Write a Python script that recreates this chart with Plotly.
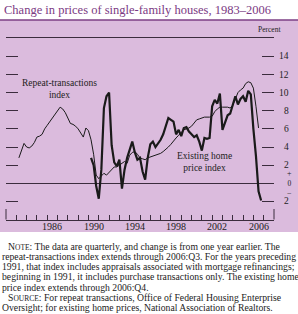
import plotly.graph_objects as go

W, H = 298, 314
FONT = "Liberation Serif"
INK = "#1a1a1a"
AX = "#3b2c3d"

# ---------------- data ----------------
# Repeat-transactions index, 4-quarter % change, starting 1983:Q2, through 2006:Q3
repeat_start = (1983, 2)
repeat_vals = [
    2.8, 3.6, 4.4,
    4.0, 3.9, 4.1, 4.5,
    5.1, 5.2, 5.4, 6.0,
    6.4, 6.8, 7.2, 7.6,
    8.0, 8.4, 8.2, 7.8,
    7.2, 6.6, 6.5, 6.3,
    6.0, 5.5, 5.1, 6.1,
    5.8, 4.8, 3.2, 0.9,
    0.5, 0.8, 1.1, 0.9,
    1.2, 1.4, 1.8, 1.8,
    2.0, 2.2, 2.4, 2.2,
    3.1, 3.4, 3.5, 3.2,
    2.8, 2.7, 2.6, 2.8,
    2.9, 3.0, 3.1, 3.2,
    3.3, 3.5, 3.7, 4.0,
    4.3, 4.7, 5.0, 5.3,
    5.6, 5.9, 6.0, 6.1,
    6.3, 6.6, 7.0, 7.1,
    7.2, 7.3, 7.3, 7.3,
    7.4, 7.9, 8.2, 8.4,
    8.4, 8.4, 8.4, 8.3,
    8.6, 9.3, 10.0, 10.3,
    10.5, 11.0, 11.2, 11.1,
    10.5, 8.5, 6.1,
]

# Existing home price index, 4-quarter % change, starting 1990:Q2, through 2006:Q4
existing_start = (1990, 2)
existing_vals = [
    2.8, 2.0, -0.3,
    -1.7, 1.5, 8.3, 9.6,
    10.0, 4.2, 2.3, 1.9,
    2.6, -0.6, 1.5, 2.8,
    3.8, 4.6, 3.4, 2.6,
    2.8, 1.3, 0.4, 2.8,
    4.3, 4.6, 4.0, 4.4,
    4.8, 5.4, 6.2, 7.2,
    7.0, 6.8, 5.4, 5.9,
    5.2, 6.1, 6.2, 5.7,
    5.4, 5.1, 5.3, 4.6,
    3.6, 5.0, 4.9, 5.0,
    8.5, 9.2, 8.8, 9.9,
    5.9, 6.8, 7.5, 7.7,
    8.8, 9.6, 8.7, 9.3,
    9.6, 9.0, 10.2, 9.8,
    6.0, 3.0, -0.9, -1.9,
]

year_labels = ["1986", "1990", "1994", "1998", "2002", "2006"]
x_range = [1982, 2008]
y_range = [-4, 16]
y_tick_vals = [-2, 2, 4, 6, 8, 10, 12, 14]
y_tick_text = ["2", "2", "4", "6", "8", "10", "12", "14"]
zero_label = "<span style='font-size:8px'>+</span><br>0<br><span style='font-size:8px'>\u2212</span>"

title_text = "Change in prices of single-family houses, 1983\u20132006"
note_lines = [
    "N<span style='font-size:7.5px'>OTE</span>: The data are quarterly, and change is from one year earlier. The",
    "repeat-transactions index extends through 2006:Q3. For the years preceding",
    "1991, that index includes appraisals associated with mortgage refinancings;",
    "beginning in 1991, it includes purchase transactions only. The existing home",
    "price index extends through 2006:Q4.",
    "S<span style='font-size:7.5px'>OURCE</span>: For repeat transactions, Office of Federal Housing Enterprise",
    "Oversight; for existing home prices, National Association of Realtors.",
]
note_indent = [True, False, False, False, False, True, False]


def quarter_x(start, n):
    y, q = start
    xs = []
    for _ in range(n):
        xs.append(y + (q - 1) / 4)
        q += 1
        if q > 4:
            q = 1
            y += 1
    return xs


def px(p):
    return p / W


def py(p):
    return 1 - p / H


fig = go.Figure()
fig.add_trace(go.Scatter(
    x=quarter_x(repeat_start, len(repeat_vals)), y=repeat_vals,
    mode="lines", line=dict(color=INK, width=1), hoverinfo="skip"))
fig.add_trace(go.Scatter(
    x=quarter_x(existing_start, len(existing_vals)), y=existing_vals,
    mode="lines", line=dict(color=INK, width=2.2), hoverinfo="skip"))
# invisible trace to activate the right axis
fig.add_trace(go.Scatter(x=[x_range[0]], y=[0], yaxis="y2", mode="markers",
                         marker=dict(opacity=0), hoverinfo="skip"))

x_dom = [px(6), px(274)]
y_dom = [py(219.5), py(38.3)]

fig.update_layout(
    width=W, height=H, margin=dict(l=0, r=0, t=0, b=0),
    paper_bgcolor="white", plot_bgcolor="rgba(0,0,0,0)",
    showlegend=False,
    xaxis=dict(domain=x_dom, range=x_range, showgrid=False, zeroline=False,
               showline=True, mirror=True, linecolor=AX, linewidth=1,
               ticks="inside", ticklen=5, tickcolor=AX, tickwidth=1,
               tickvals=list(range(x_range[0], x_range[1] + 1)),
               showticklabels=False, fixedrange=True),
    yaxis=dict(domain=y_dom, range=y_range, showgrid=False,
               zeroline=True, zerolinecolor=AX, zerolinewidth=1,
               showline=False, ticks="inside", ticklen=12, tickcolor=AX,
               tickwidth=1, tickvals=y_tick_vals, showticklabels=False,
               fixedrange=True),
    yaxis2=dict(overlaying="y", side="right", anchor="x", range=y_range,
                showgrid=False, zeroline=False, showline=False,
                ticks="inside", ticklen=12, tickcolor=AX, tickwidth=1,
                tickvals=y_tick_vals, showticklabels=False, fixedrange=True),
)

shapes = [
    dict(type="rect", xref="paper", yref="paper", x0=0, x1=1,
         y0=py(232), y1=py(20), fillcolor="#dbbbdd", line=dict(width=0),
         layer="below"),
    dict(type="line", xref="paper", yref="paper", x0=0, x1=1,
         y0=py(20), y1=py(20), line=dict(color="#7d3f85", width=1.5)),
    dict(type="line", xref="x domain", yref="paper", x0=0, x1=0,
         y0=py(219.5), y1=py(209), line=dict(color=AX, width=1)),
    dict(type="line", xref="x domain", yref="paper", x0=1, x1=1,
         y0=py(219.5), y1=py(209), line=dict(color=AX, width=1)),
]
fig.update_layout(shapes=shapes)

ann = []
ann.append(dict(text=title_text, xref="paper", yref="paper", x=px(2), y=py(10),
                xanchor="left", yanchor="middle", showarrow=False,
                font=dict(family=FONT, size=12.5, color="#7b3983")))
ann.append(dict(text="Percent", xref="paper", yref="paper", x=px(283), y=py(30),
                xanchor="right", yanchor="middle", showarrow=False,
                font=dict(family=FONT, size=7.5, color="#222")))
for lab in year_labels:
    ann.append(dict(text=lab, xref="x", yref="paper", x=int(lab) + 0.5, y=py(227),
                    xanchor="center", yanchor="middle", showarrow=False,
                    font=dict(family=FONT, size=10, color="#222")))
for v, t in zip(y_tick_vals, y_tick_text):
    ann.append(dict(text=t, xref="paper", yref="y", x=px(291), y=v,
                    xanchor="right", yanchor="middle", showarrow=False,
                    font=dict(family=FONT, size=9.5, color="#222")))
ann.append(dict(text=zero_label, xref="paper", yref="y", x=px(289), y=0,
                xanchor="center", yanchor="middle", showarrow=False,
                font=dict(family=FONT, size=7.5, color="#222")))
ann.append(dict(text="Repeat-transactions<br>index", xref="paper", yref="paper",
                x=px(59), y=py(89), xanchor="center", yanchor="middle",
                showarrow=False, font=dict(family=FONT, size=9.5, color="#222")))
ann.append(dict(text="Existing home<br>price index", xref="paper", yref="paper",
                x=px(205), y=py(162), xanchor="center", yanchor="middle",
                showarrow=False, font=dict(family=FONT, size=9.5, color="#222")))
for i, (line, ind) in enumerate(zip(note_lines, note_indent)):
    ann.append(dict(text=line, xref="paper", yref="paper",
                    x=px(6 if ind else 0), y=py(246 + i * 10.3),
                    xanchor="left", yanchor="middle", showarrow=False,
                    font=dict(family=FONT, size=9.7, color="#222")))
fig.update_layout(annotations=ann)

fig.write_html("out.html")
